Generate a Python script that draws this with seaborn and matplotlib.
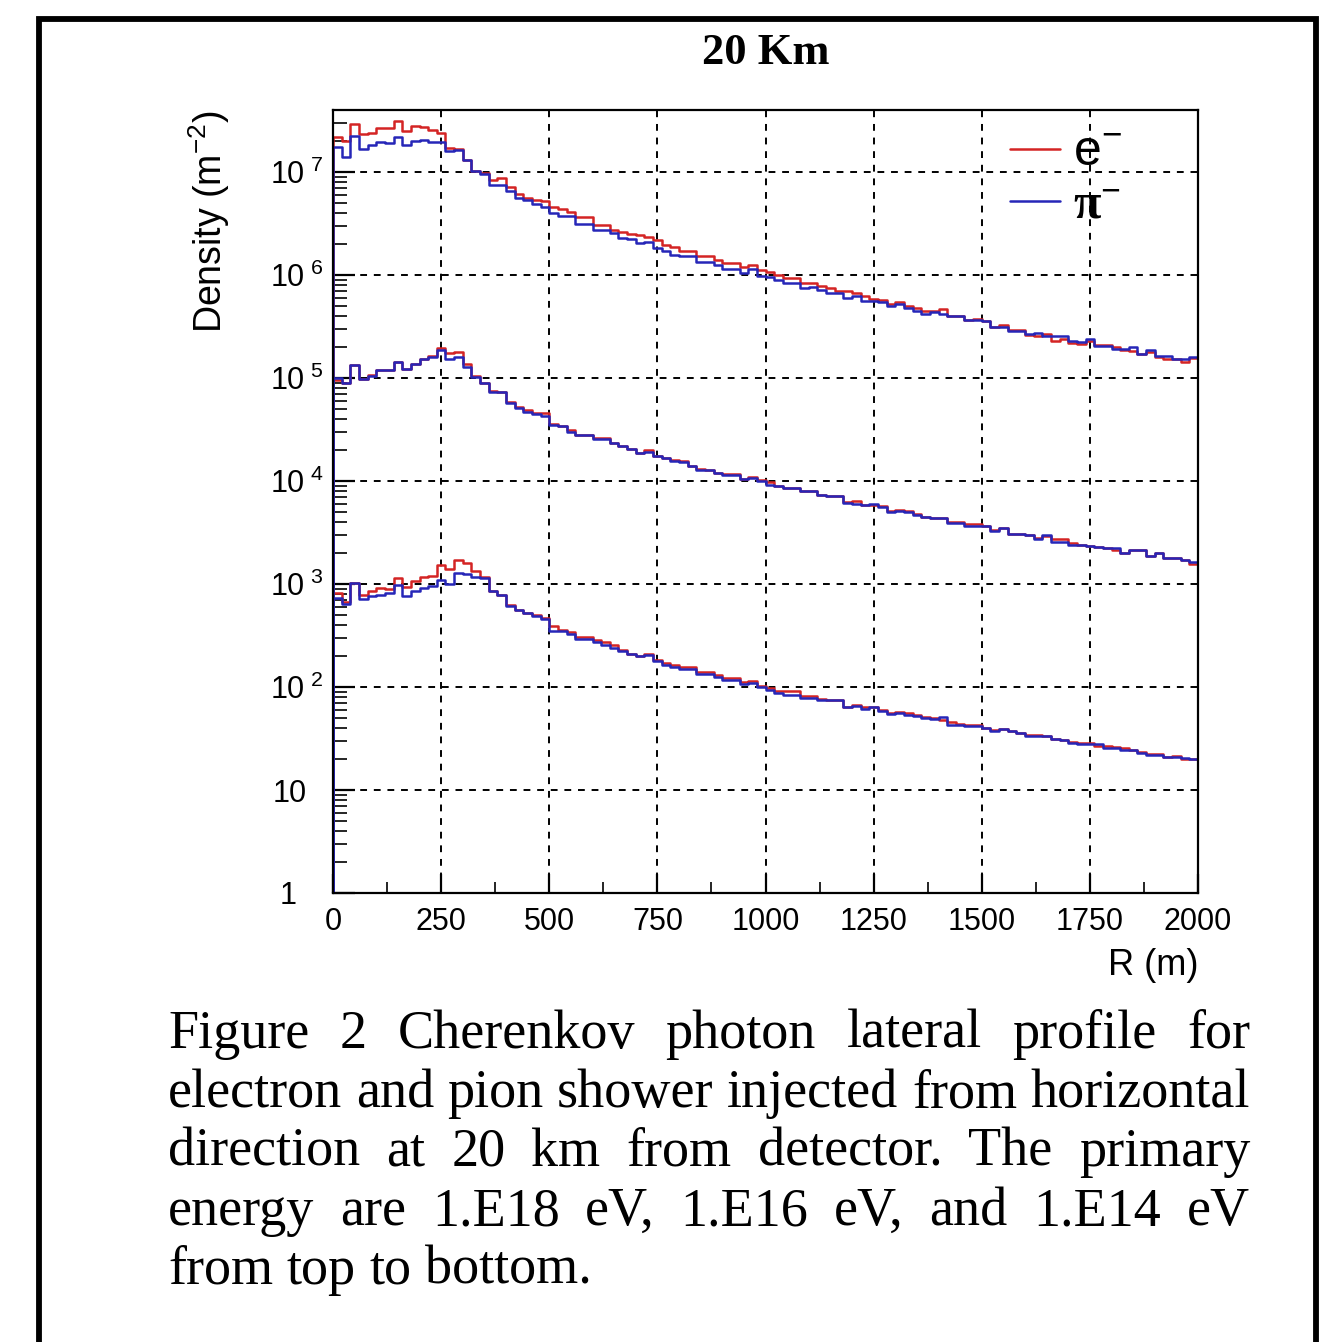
"""
plot.py

Perfil lateral de fotones Cherenkov (20 Km), electrones vs piones,
tres energias primarias. Histogramas de 100 bins de 20 m.
"""

import numpy as np
import pandas as pd
import matplotlib
matplotlib.use("Agg")
import matplotlib.pyplot as plt
import matplotlib.transforms as mtransforms
from matplotlib.patches import Rectangle
from matplotlib.ticker import FixedLocator, FixedFormatter, MultipleLocator, LogLocator, NullFormatter
import seaborn as sns


# =========================
# Datos (log10 de la densidad por bin)
# =========================

r_edges = np.arange(0, 2001, 20)  # m

e18_electron = [
    7.34, 7.30, 7.47, 7.37, 7.38, 7.43, 7.43, 7.50, 7.40, 7.45,
    7.44, 7.41, 7.38, 7.23, 7.22, 7.12, 7.01, 6.99, 6.92, 6.94,
    6.85, 6.79, 6.75, 6.73, 6.72, 6.66, 6.64, 6.61, 6.56, 6.56,
    6.49, 6.49, 6.44, 6.42, 6.40, 6.39, 6.37, 6.34, 6.29, 6.27,
    6.23, 6.23, 6.18, 6.18, 6.15, 6.12, 6.12, 6.08, 6.10, 6.05,
    6.03, 6.00, 5.97, 5.97, 5.92, 5.92, 5.89, 5.87, 5.84, 5.84,
    5.83, 5.80, 5.77, 5.76, 5.72, 5.74, 5.70, 5.68, 5.65, 5.65,
    5.67, 5.60, 5.60, 5.56, 5.57, 5.55, 5.50, 5.51, 5.47, 5.47,
    5.42, 5.41, 5.43, 5.36, 5.38, 5.34, 5.33, 5.36, 5.32, 5.32,
    5.30, 5.27, 5.26, 5.23, 5.25, 5.20, 5.18, 5.18, 5.16, 5.19,
]
e18_pion = [
    7.24, 7.15, 7.35, 7.22, 7.26, 7.29, 7.28, 7.34, 7.26, 7.30,
    7.31, 7.29, 7.29, 7.20, 7.21, 7.12, 7.01, 6.98, 6.87, 6.87,
    6.82, 6.75, 6.73, 6.69, 6.66, 6.60, 6.57, 6.57, 6.50, 6.50,
    6.44, 6.44, 6.41, 6.36, 6.35, 6.31, 6.32, 6.26, 6.23, 6.19,
    6.18, 6.18, 6.13, 6.13, 6.10, 6.06, 6.06, 6.02, 6.06, 5.99,
    5.98, 5.95, 5.92, 5.92, 5.87, 5.88, 5.85, 5.83, 5.83, 5.78,
    5.80, 5.75, 5.75, 5.74, 5.70, 5.72, 5.68, 5.65, 5.62, 5.64,
    5.62, 5.60, 5.60, 5.56, 5.56, 5.55, 5.50, 5.50, 5.46, 5.46,
    5.43, 5.44, 5.41, 5.41, 5.41, 5.36, 5.35, 5.38, 5.31, 5.31,
    5.28, 5.28, 5.30, 5.23, 5.27, 5.21, 5.21, 5.18, 5.18, 5.20,
]
e16_electron = [
    4.98, 4.95, 5.13, 4.99, 5.03, 5.08, 5.08, 5.16, 5.09, 5.14,
    5.18, 5.21, 5.29, 5.24, 5.25, 5.14, 5.02, 4.95, 4.87, 4.86,
    4.77, 4.72, 4.69, 4.66, 4.66, 4.55, 4.53, 4.50, 4.45, 4.45,
    4.42, 4.42, 4.37, 4.34, 4.31, 4.27, 4.30, 4.24, 4.22, 4.20,
    4.19, 4.15, 4.12, 4.11, 4.08, 4.07, 4.07, 4.02, 4.04, 4.01,
    3.99, 3.95, 3.93, 3.93, 3.90, 3.90, 3.86, 3.85, 3.85, 3.80,
    3.81, 3.77, 3.77, 3.76, 3.71, 3.72, 3.71, 3.68, 3.65, 3.64,
    3.64, 3.60, 3.60, 3.58, 3.58, 3.56, 3.52, 3.54, 3.49, 3.49,
    3.48, 3.45, 3.47, 3.44, 3.44, 3.40, 3.38, 3.37, 3.36, 3.35,
    3.33, 3.30, 3.33, 3.33, 3.27, 3.30, 3.25, 3.25, 3.23, 3.19,
]
e16_pion = [
    5.00, 4.95, 5.13, 4.99, 5.02, 5.08, 5.08, 5.16, 5.09, 5.14,
    5.18, 5.20, 5.27, 5.18, 5.20, 5.11, 5.01, 4.95, 4.86, 4.86,
    4.76, 4.71, 4.67, 4.65, 4.63, 4.54, 4.53, 4.48, 4.45, 4.45,
    4.41, 4.41, 4.37, 4.34, 4.31, 4.27, 4.28, 4.24, 4.22, 4.19,
    4.18, 4.15, 4.11, 4.11, 4.08, 4.06, 4.06, 4.02, 4.03, 4.00,
    3.96, 3.95, 3.93, 3.93, 3.90, 3.90, 3.86, 3.85, 3.85, 3.79,
    3.78, 3.77, 3.78, 3.75, 3.70, 3.71, 3.70, 3.67, 3.65, 3.64,
    3.64, 3.59, 3.59, 3.56, 3.56, 3.56, 3.51, 3.54, 3.49, 3.49,
    3.48, 3.44, 3.48, 3.41, 3.41, 3.38, 3.38, 3.37, 3.36, 3.35,
    3.35, 3.30, 3.33, 3.33, 3.27, 3.30, 3.25, 3.25, 3.23, 3.21,
]
e14_electron = [
    2.91, 2.83, 3.01, 2.89, 2.93, 2.96, 2.95, 3.06, 2.97, 3.03,
    3.07, 3.08, 3.18, 3.15, 3.23, 3.20, 3.13, 3.07, 2.93, 2.89,
    2.80, 2.75, 2.72, 2.70, 2.67, 2.59, 2.55, 2.53, 2.49, 2.49,
    2.46, 2.44, 2.41, 2.36, 2.32, 2.30, 2.32, 2.26, 2.23, 2.21,
    2.19, 2.19, 2.15, 2.15, 2.12, 2.09, 2.09, 2.05, 2.06, 2.01,
    1.99, 1.96, 1.96, 1.96, 1.91, 1.91, 1.88, 1.87, 1.87, 1.81,
    1.83, 1.81, 1.81, 1.78, 1.75, 1.76, 1.75, 1.73, 1.71, 1.70,
    1.68, 1.66, 1.64, 1.63, 1.63, 1.60, 1.58, 1.59, 1.57, 1.55,
    1.53, 1.53, 1.52, 1.50, 1.49, 1.47, 1.46, 1.46, 1.43, 1.43,
    1.42, 1.41, 1.39, 1.37, 1.35, 1.35, 1.32, 1.33, 1.30, 1.30,
]
e14_pion = [
    2.86, 2.81, 3.01, 2.85, 2.88, 2.89, 2.91, 2.99, 2.88, 2.93,
    2.96, 2.98, 3.04, 3.00, 3.11, 3.10, 3.07, 3.06, 2.93, 2.89,
    2.79, 2.75, 2.72, 2.69, 2.66, 2.54, 2.54, 2.51, 2.47, 2.47,
    2.44, 2.41, 2.38, 2.35, 2.32, 2.30, 2.31, 2.25, 2.21, 2.19,
    2.17, 2.17, 2.13, 2.13, 2.10, 2.07, 2.07, 2.03, 2.04, 2.00,
    1.97, 1.94, 1.92, 1.92, 1.89, 1.89, 1.87, 1.87, 1.87, 1.81,
    1.82, 1.79, 1.81, 1.77, 1.74, 1.75, 1.73, 1.72, 1.70, 1.69,
    1.71, 1.63, 1.63, 1.62, 1.62, 1.60, 1.57, 1.59, 1.57, 1.55,
    1.52, 1.52, 1.52, 1.50, 1.49, 1.46, 1.45, 1.45, 1.45, 1.41,
    1.41, 1.39, 1.39, 1.36, 1.34, 1.34, 1.32, 1.32, 1.31, 1.30,
]

y_ticks = [1, 10, 1e2, 1e3, 1e4, 1e5, 1e6, 1e7]
y_tick_labels = ["1", "10", "10$^{\\ 2}$", "10$^{\\ 3}$",
                 "10$^{\\ 4}$", "10$^{\\ 5}$", "10$^{\\ 6}$", "10$^{\\ 7}$"]
x_ticks = [0, 250, 500, 750, 1000, 1250, 1500, 1750, 2000]

legend_labels = ["e$^{-}$", "π$^{-}$"]
title_text = "20 Km"
caption_lines = [
    "Figure 2 Cherenkov photon lateral profile for",
    "electron and pion shower injected from horizontal",
    "direction at 20 km from detector. The primary",
    "energy are 1.E18 eV, 1.E16 eV, and 1.E14 eV",
    "from top to bottom.",
]


def step_frame(log_values, floor):
    """
    Contorno tipo ROOT: baja hasta el piso en ambos extremos.
    """
    dens = list(10.0 ** np.array(log_values))
    x = [r_edges[0]] + list(r_edges) + [r_edges[-1]]
    y = [floor] + dens + [dens[-1], floor]
    return pd.DataFrame({"R": x, "density": y})


def main():
    sns.set_theme(style="white")
    plt.rcParams["font.family"] = ["Liberation Sans", "DejaVu Sans"]
    plt.rcParams["mathtext.fontset"] = "custom"
    plt.rcParams["mathtext.rm"] = "Liberation Sans"
    plt.rcParams["mathtext.it"] = "Liberation Sans"
    plt.rcParams["mathtext.default"] = "regular"
    for key in ["text.color", "axes.labelcolor", "xtick.color", "ytick.color"]:
        plt.rcParams[key] = "black"

    W, H = 1344, 1342
    fig = plt.figure(figsize=(W / 100, H / 100), dpi=100)
    fig.patch.set_facecolor("white")

    ax = fig.add_axes([333 / W, 1 - 893 / H, 865 / W, 783 / H])
    ax.set_facecolor("white")

    y_min, y_max = 1.0, 4.0e7
    red = "#d42424"
    blue = "#2626b8"

    series = [
        (e18_electron, red, legend_labels[0]),
        (e16_electron, red, None),
        (e14_electron, red, None),
        (e18_pion, blue, legend_labels[1]),
        (e16_pion, blue, None),
        (e14_pion, blue, None),
    ]

    for values, color, label in series:
        df = step_frame(values, y_min)
        sns.lineplot(
            data=df, x="R", y="density", ax=ax,
            estimator=None, sort=False,
            drawstyle="steps-post", color=color, linewidth=1.8,
            label=label, legend=False,
        )

    ax.set_yscale("log")
    ax.set_xlim(0, 2000)
    ax.set_ylim(y_min, y_max)

    # ejes y ticks estilo ROOT
    ax.xaxis.set_major_locator(FixedLocator(x_ticks))
    ax.xaxis.set_minor_locator(MultipleLocator(125))
    ax.yaxis.set_major_locator(FixedLocator(y_ticks))
    ax.yaxis.set_major_formatter(FixedFormatter(y_tick_labels))
    ax.yaxis.set_minor_locator(LogLocator(base=10, subs=np.arange(2, 10)))
    ax.yaxis.set_minor_formatter(NullFormatter())

    ax.tick_params(axis="both", which="both", direction="in",
                   bottom=True, left=True, top=False, right=False,
                   colors="black", labelsize=22)
    ax.tick_params(axis="y", which="major", length=16, width=1.6, pad=7)
    ax.tick_params(axis="y", which="minor", length=10, width=1.2)
    ax.tick_params(axis="x", which="major", length=14, width=1.6, pad=10)
    ax.tick_params(axis="x", which="minor", length=8, width=1.2)

    # "1" y "10" alineados como en ROOT (sin exponente, mas a la izquierda)
    y_major = ax.yaxis.get_major_ticks()
    for tick, shift_pt in [(y_major[0], 19.0), (y_major[1], 12.0)]:
        offset = mtransforms.ScaledTranslation(-shift_pt / 72, 0, fig.dpi_scale_trans)
        tick.label1.set_transform(tick.label1.get_transform() + offset)

    ax.grid(True, which="major", color="black", linestyle=(0, (3.5, 3.5)), linewidth=1.4)
    for spine in ax.spines.values():
        spine.set_color("black")
        spine.set_linewidth(1.6)

    ax.set_xlabel("R (m)", fontsize=26, loc="right")
    ax.xaxis.set_label_coords(1.0, -0.07)
    ax.set_ylabel("Density (m$^{-2}$)", fontsize=27, loc="top")
    ax.yaxis.set_label_coords(-0.117, 1.0)

    handles, labels = ax.get_legend_handles_labels()
    leg = ax.legend(
        handles, labels, loc="upper left",
        bbox_to_anchor=(0.76, 1.0),
        frameon=False, fontsize=36,
        handlelength=1.0, handletextpad=0.25, labelspacing=0.15,
        borderaxespad=0.0,
    )
    leg.get_texts()[1].set_family("Liberation Serif")
    leg.get_texts()[1].set_fontweight("bold")

    # titulo
    fig.text(766 / W, 1 - 53 / H, title_text, ha="center", va="center",
             fontsize=32, fontweight="bold", family="Liberation Serif")

    # marco negro de la pagina
    frame = Rectangle((39 / W, -0.02), (1316 - 39) / W, 1 - 19 / H + 0.02,
                      transform=fig.transFigure, fill=False,
                      edgecolor="black", linewidth=4.2, clip_on=False)
    fig.patches.append(frame)

    # pie de figura justificado
    renderer = fig.canvas.get_renderer()
    x_left, x_right = 168, 1250
    base0, dy = 1048, 59
    font_size = 39
    for i, line in enumerate(caption_lines):
        words = line.split()
        y = 1 - (base0 + i * dy) / H
        texts = [fig.text(0, y, w, ha="left", va="baseline", fontsize=font_size,
                          family="Liberation Serif") for w in words]
        widths = [t.get_window_extent(renderer).width for t in texts]
        if i == len(caption_lines) - 1:
            gap = 0.25 * font_size * 100 / 72
        else:
            gap = (x_right - x_left - sum(widths)) / (len(words) - 1)
        x = x_left
        for t, w in zip(texts, widths):
            t.set_x(x / W)
            x += w + gap

    fig.savefig("out.png", dpi=100, facecolor="white")
    plt.close(fig)


if __name__ == "__main__":
    main()
